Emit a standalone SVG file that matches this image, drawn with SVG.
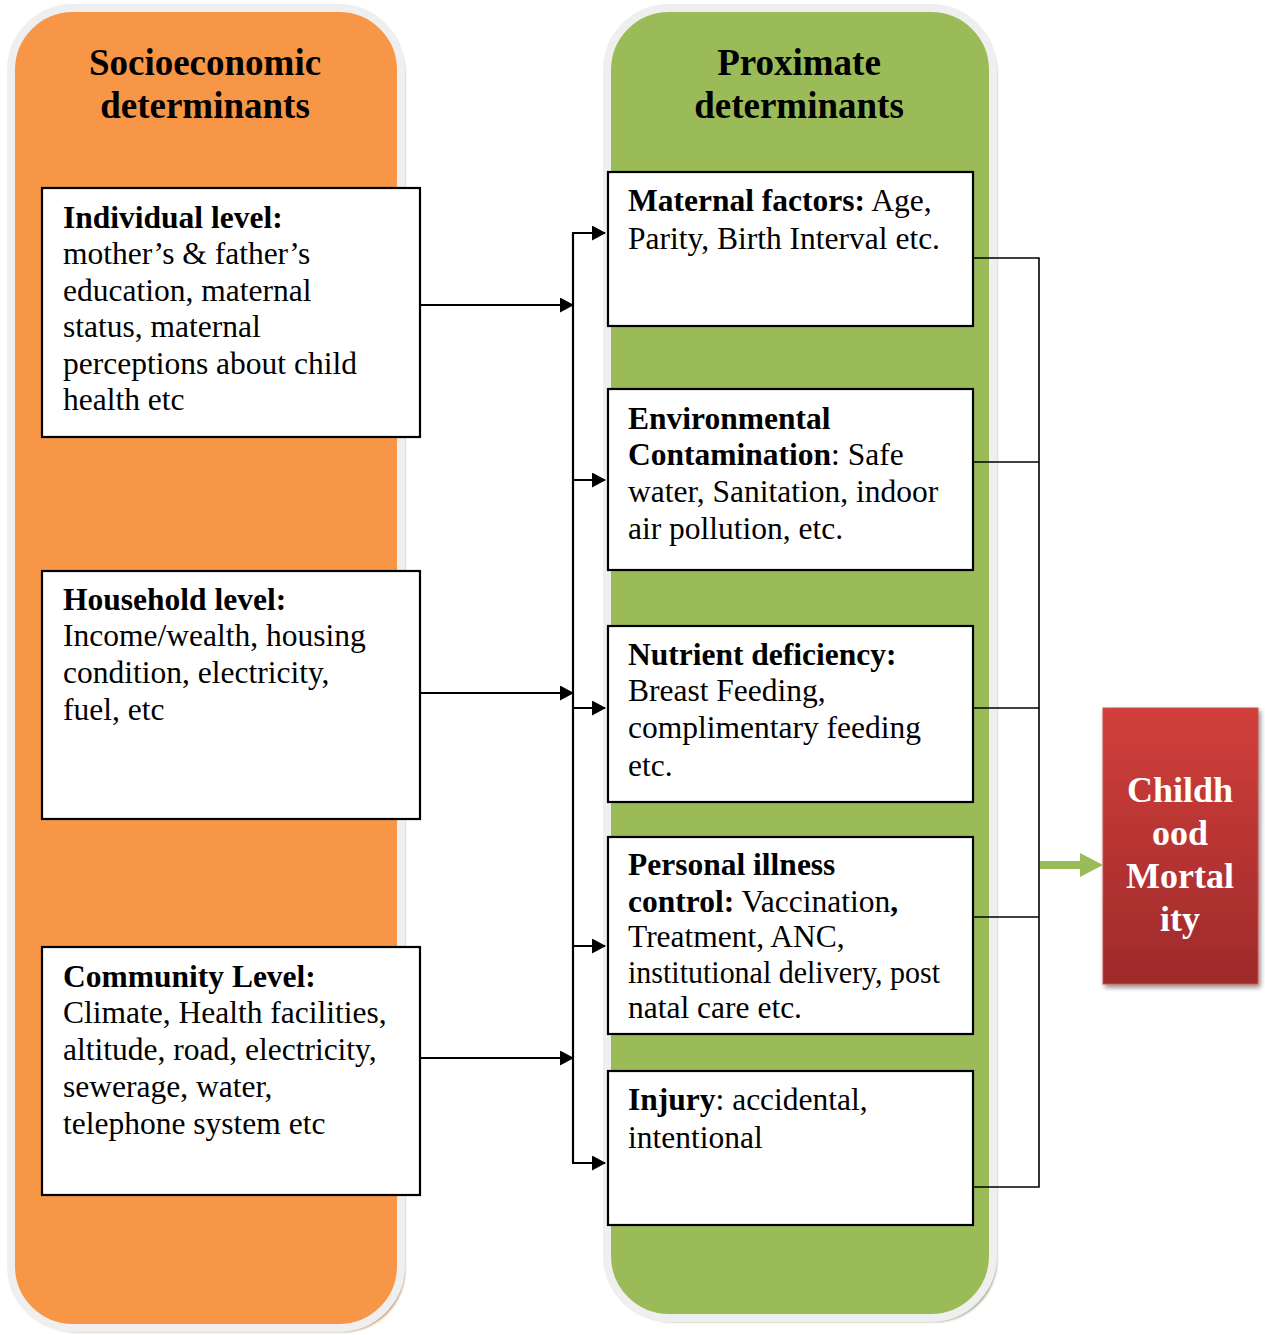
<svg xmlns="http://www.w3.org/2000/svg" width="1265" height="1335" viewBox="0 0 1265 1335">
  <defs>
    <style>
      .t { font-family: "Liberation Serif", "Times New Roman", serif; font-size: 31.5px; fill: #000; }
      .b { font-weight: bold; }
      .head { font-family: "Liberation Serif", "Times New Roman", serif; font-size: 37px; font-weight: bold; text-anchor: middle; fill: #000; }
      .outcome { font-family: "Liberation Serif", "Times New Roman", serif; font-size: 36px; font-weight: bold; text-anchor: middle; fill: #fff; }
      .box { fill: #fff; stroke: #000; stroke-width: 2.2; }
      .wire { fill: none; stroke: #000; stroke-width: 2.2; }
      .bracket { fill: none; stroke: #000; stroke-width: 1.6; }
    </style>
    <marker id="tip" markerUnits="userSpaceOnUse" markerWidth="14" markerHeight="16" refX="13" refY="7.5" orient="auto">
      <path d="M0,0 L14,7.5 L0,15 Z" fill="#000"/>
    </marker>
    <linearGradient id="redFill" x1="0" y1="0" x2="0" y2="1">
      <stop offset="0" stop-color="#d13f3b"/>
      <stop offset="1" stop-color="#9e2a2a"/>
    </linearGradient>
    <filter id="soft" x="-5%" y="-5%" width="110%" height="110%">
      <feGaussianBlur stdDeviation="1.2"/>
    </filter>
    <filter id="drop" x="-20%" y="-20%" width="140%" height="140%">
      <feGaussianBlur in="SourceAlpha" stdDeviation="2.5"/>
      <feOffset dx="2" dy="3" result="s"/>
      <feComponentTransfer><feFuncA type="linear" slope="0.45"/></feComponentTransfer>
      <feMerge><feMergeNode/><feMergeNode in="SourceGraphic"/></feMerge>
    </filter>
  </defs>

  <rect width="1265" height="1335" fill="#fff"/>

  <!-- socioeconomic column -->
  <g id="socioeconomic-panel">
    <rect x="15" y="12" width="390" height="1320" rx="62" fill="#c29c7c" filter="url(#soft)"/>
    <rect x="11" y="8" width="390" height="1320" rx="62" fill="#f79646" stroke="#efefef" stroke-width="8"/>
    <text class="head" x="205" y="75">Socioeconomic</text>
    <text class="head" x="205" y="118">determinants</text>
  </g>

  <!-- proximate column -->
  <g id="proximate-panel">
    <rect x="611" y="12" width="386" height="1310" rx="62" fill="#a3ab8c" filter="url(#soft)"/>
    <rect x="607" y="8" width="386" height="1310" rx="62" fill="#9bbb59" stroke="#efefef" stroke-width="8"/>
    <text class="head" x="799" y="75">Proximate</text>
    <text class="head" x="799" y="118">determinants</text>
  </g>

  <!-- socioeconomic levels -->
  <g id="individual-level">
    <rect class="box" x="42" y="188" width="378" height="249"/>
    <text class="t" x="63" y="228"><tspan class="b">Individual level:</tspan></text>
    <text class="t" x="63" y="264">mother’s &amp; father’s</text>
    <text class="t" x="63" y="301">education, maternal</text>
    <text class="t" x="63" y="337">status, maternal</text>
    <text class="t" x="63" y="374">perceptions about child</text>
    <text class="t" x="63" y="410">health etc</text>
  </g>

  <g id="household-level">
    <rect class="box" x="42" y="571" width="378" height="248"/>
    <text class="t" x="63" y="610"><tspan class="b">Household level:</tspan></text>
    <text class="t" x="63" y="646">Income/wealth, housing</text>
    <text class="t" x="63" y="683">condition, electricity,</text>
    <text class="t" x="63" y="720">fuel, etc</text>
  </g>

  <g id="community-level">
    <rect class="box" x="42" y="947" width="378" height="248"/>
    <text class="t" x="63" y="987"><tspan class="b">Community Level:</tspan></text>
    <text class="t" x="63" y="1023">Climate, Health facilities,</text>
    <text class="t" x="63" y="1060">altitude, road, electricity,</text>
    <text class="t" x="63" y="1097">sewerage, water,</text>
    <text class="t" x="63" y="1134">telephone system etc</text>
  </g>

  <!-- proximate factors -->
  <g id="maternal-factors">
    <rect class="box" x="608" y="172" width="365" height="154"/>
    <text class="t" x="628" y="211"><tspan class="b">Maternal factors:</tspan> Age,</text>
    <text class="t" x="628" y="249">Parity, Birth Interval etc.</text>
  </g>

  <g id="environmental-contamination">
    <rect class="box" x="608" y="389" width="365" height="181"/>
    <text class="t" x="628" y="429"><tspan class="b">Environmental</tspan></text>
    <text class="t" x="628" y="465"><tspan class="b">Contamination</tspan>: Safe</text>
    <text class="t" x="628" y="502">water, Sanitation, indoor</text>
    <text class="t" x="628" y="539">air pollution, etc.</text>
  </g>

  <g id="nutrient-deficiency">
    <rect class="box" x="608" y="626" width="365" height="176"/>
    <text class="t" x="628" y="665"><tspan class="b">Nutrient deficiency:</tspan></text>
    <text class="t" x="628" y="701">Breast Feeding,</text>
    <text class="t" x="628" y="738">complimentary feeding</text>
    <text class="t" x="628" y="776">etc.</text>
  </g>

  <g id="personal-illness-control">
    <rect class="box" x="608" y="837" width="365" height="197"/>
    <text class="t" x="628" y="875"><tspan class="b">Personal illness</tspan></text>
    <text class="t" x="628" y="912"><tspan class="b">control:</tspan> Vaccination<tspan class="b">,</tspan></text>
    <text class="t" x="628" y="947">Treatment, ANC,</text>
    <text class="t" x="628" y="983" textLength="312" lengthAdjust="spacingAndGlyphs">institutional delivery, post</text>
    <text class="t" x="628" y="1018">natal care etc.</text>
  </g>

  <g id="injury">
    <rect class="box" x="608" y="1071" width="365" height="154"/>
    <text class="t" x="628" y="1110"><tspan class="b">Injury</tspan>: accidental,</text>
    <text class="t" x="628" y="1148">intentional</text>
  </g>

  <!-- outcome -->
  <g id="childhood-mortality">
    <rect x="1103" y="708" width="155" height="276" fill="url(#redFill)" stroke="#c85050" stroke-width="1" filter="url(#drop)"/>
    <text class="outcome" x="1180" y="802">Childh</text>
    <text class="outcome" x="1180" y="845">ood</text>
    <text class="outcome" x="1180" y="888">Mortal</text>
    <text class="outcome" x="1180" y="931">ity</text>
  </g>

  <!-- connectors -->
  <g id="connectors">
    <!-- trunk and branches into proximate factors -->
    <path class="wire" d="M573,233 L573,1163"/>
    <path class="wire" d="M420,305 L573,305" marker-end="url(#tip)"/>
    <path class="wire" d="M420,693 L573,693" marker-end="url(#tip)"/>
    <path class="wire" d="M420,1058 L573,1058" marker-end="url(#tip)"/>
    <path class="wire" d="M572,233 L605,233" marker-end="url(#tip)"/>
    <path class="wire" d="M572,480 L605,480" marker-end="url(#tip)"/>
    <path class="wire" d="M572,708 L605,708" marker-end="url(#tip)"/>
    <path class="wire" d="M572,946 L605,946" marker-end="url(#tip)"/>
    <path class="wire" d="M572,1163 L605,1163" marker-end="url(#tip)"/>
    <!-- bracket gathering proximate factors -->
    <path class="bracket" d="M973,258 L1039,258 L1039,1187 L973,1187"/>
    <path class="bracket" d="M973,462 L1039,462"/>
    <path class="bracket" d="M973,708 L1039,708"/>
    <path class="bracket" d="M973,917 L1039,917"/>
    <!-- green arrow to outcome -->
    <path d="M1040,861 L1080,861 L1080,853 L1103,865 L1080,877 L1080,869 L1040,869 Z" fill="#9bbb59"/>
  </g>
</svg>
